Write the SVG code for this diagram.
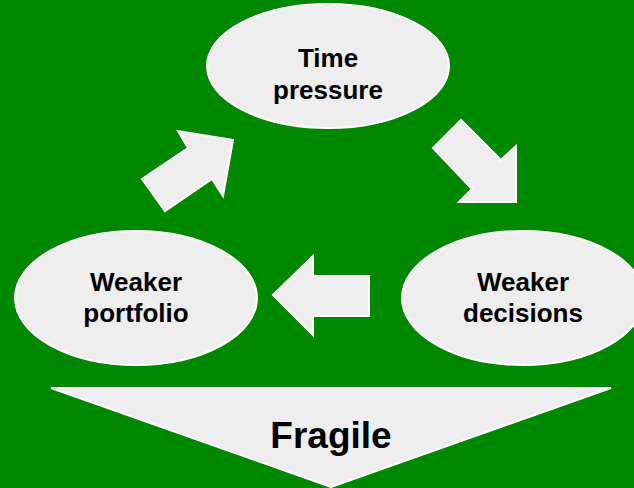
<svg xmlns="http://www.w3.org/2000/svg" width="634" height="488" viewBox="0 0 634 488">
<style>
.shape{fill:#eeeeee;stroke:#ffffff;stroke-width:2}
.lbl{font-family:"Liberation Sans",Arial,sans-serif;font-weight:bold;font-size:26px;fill:#000;text-anchor:middle}
.big{font-size:37px}
</style>
<rect width="634" height="488" fill="#008800"/>
<g id="time-pressure">
<ellipse class="shape" cx="328" cy="66" rx="121" ry="62"/>
<text class="lbl" x="328" y="67">Time</text>
<text class="lbl" x="328" y="99">pressure</text>
</g>
<g id="weaker-decisions">
<ellipse class="shape" cx="523" cy="298" rx="121" ry="67"/>
<text class="lbl" x="523" y="291">Weaker</text>
<text class="lbl" x="523" y="322">decisions</text>
</g>
<g id="weaker-portfolio">
<ellipse class="shape" cx="136" cy="298" rx="121" ry="67"/>
<text class="lbl" x="136" y="291">Weaker</text>
<text class="lbl" x="136" y="322">portfolio</text>
</g>
<g id="connectors">
<polygon class="shape" points="233,140 178,131 188,148 142,179 165,211 212,179 223,196"/>
<polygon class="shape" points="461,120 433,148 472,189 459,202 516,202 516,146 501,160"/>
<polygon class="shape" points="273,295 313,256 313,276 369,276 369,316 313,316 313,335"/>
</g>
<g id="fragile">
<polygon class="shape" points="51,388 611,388 331,487"/>
<text class="lbl big" x="331" y="448">Fragile</text>
</g>
</svg>
